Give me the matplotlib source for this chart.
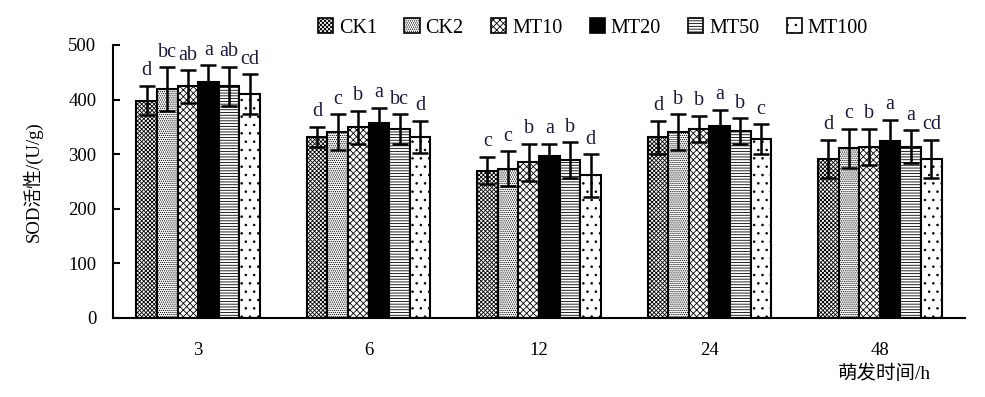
import numpy as np
import matplotlib
matplotlib.use('Agg')
import matplotlib.pyplot as plt
from matplotlib.patches import Patch

plt.rcParams['font.family'] = ['Liberation Serif', 'Noto Sans CJK SC']
plt.rcParams['hatch.linewidth'] = 0.6

# data
hours = ['3', '6', '12', '24', '48']
series = ['CK1', 'CK2', 'MT10', 'MT20', 'MT50', 'MT100']

ck1 = [398, 332, 270, 331, 291]
ck2 = [419, 340, 273, 340, 311]
mt10 = [424, 349, 285, 346, 314]
mt20 = [433, 358, 297, 352, 324]
mt50 = [424, 346, 289, 342, 314]
mt100 = [410, 332, 261, 328, 291]

ck1_err = [27, 18, 25, 30, 35]
ck2_err = [40, 33, 32, 33, 36]
mt10_err = [30, 31, 34, 24, 33]
mt20_err = [30, 27, 22, 29, 39]
mt50_err = [36, 27, 33, 24, 30]
mt100_err = [36, 29, 39, 27, 35]

ck1_sig = ['d', 'd', 'c', 'd', 'd']
ck2_sig = ['bc', 'c', 'c', 'b', 'c']
mt10_sig = ['ab', 'b', 'b', 'b', 'b']
mt20_sig = ['a', 'a', 'a', 'a', 'a']
mt50_sig = ['ab', 'bc', 'b', 'b', 'a']
mt100_sig = ['cd', 'd', 'd', 'c', 'cd']

values = [ck1, ck2, mt10, mt20, mt50, mt100]
errors = [ck1_err, ck2_err, mt10_err, mt20_err, mt50_err, mt100_err]
letters = [ck1_sig, ck2_sig, mt10_sig, mt20_sig, mt50_sig, mt100_sig]

# look of each series
faces = ['white', 'white', 'white', 'black', 'white', 'white']
hatches = ['xxxxxxxx', '........', 'xxxxx', '', '------', '..']

fig = plt.figure(figsize=(9.85, 3.97), dpi=100)
ax = fig.add_axes([0.1147, 0.199, 0.865, 0.6877])

x = np.arange(len(hours))
w = 0.121
for i in range(len(series)):
    pos = x + (i - 2.5) * w
    ax.bar(pos, values[i], w, color=faces[i], edgecolor='black',
           hatch=hatches[i], linewidth=1.5, zorder=2)
    ax.errorbar(pos, values[i], yerr=errors[i], fmt='none', ecolor='black',
                elinewidth=1.8, capsize=5.5, capthick=1.8, zorder=3)
    for j in range(len(hours)):
        ax.annotate(letters[i][j], (pos[j], values[i][j] + errors[i][j]),
                    xytext=(0, 4), textcoords='offset points',
                    ha='center', va='bottom', fontsize=14.5, color='#1a1a40')

ax.set_xlim(-0.5, len(hours) - 0.5)
ax.set_ylim(0, 500)
ax.set_yticks(range(0, 501, 100))
ax.set_xticks(x)
ax.set_xticklabels(hours)
ax.tick_params(axis='y', direction='in', length=5, width=1.5, labelsize=13.5, pad=12)
ax.tick_params(axis='x', length=0, labelsize=13.5, pad=17)
for s in ['top', 'right']:
    ax.spines[s].set_visible(False)
ax.spines['left'].set_linewidth(1.5)
ax.spines['bottom'].set_linewidth(1.5)

ax.set_ylabel('SOD活性/(U/g)', fontsize=13.5, labelpad=18)
fig.text(0.851, 0.035, '萌发时间/h', fontsize=14, ha='left', va='bottom')

handles = [Patch(facecolor=faces[i], edgecolor='black', hatch=hatches[i],
                 linewidth=1.2, label=series[i]) for i in range(len(series))]
fig.legend(handles=handles, loc='upper center', bbox_to_anchor=(0.602, 1.0),
           ncol=6, frameon=False, fontsize=14.5, handlelength=0.75,
           handleheight=0.75, handletextpad=0.3, columnspacing=1.35)

fig.savefig('out.png', dpi=100)
